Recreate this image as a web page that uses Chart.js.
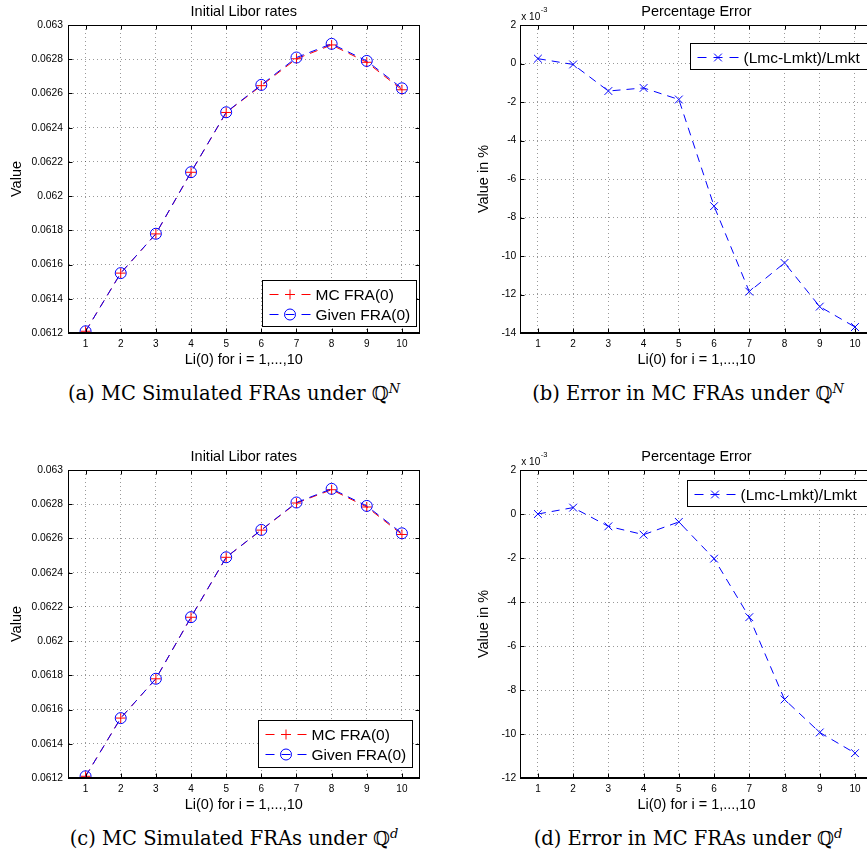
<!DOCTYPE html>
<html>
<head>
<meta charset="utf-8">
<title>MC simulated FRAs</title>
<script src="https://cdn.jsdelivr.net/npm/chart.js@4.4.1/dist/chart.umd.min.js"></script>
<style>
  html, body { margin:0; padding:0; background:#fff; overflow:hidden; }
  #page { position:relative; width:867px; height:857px; overflow:hidden; background:#fff; }
  .plot { position:absolute; width:440px; height:372px; }
  .cap { position:absolute; width:500px; text-align:center; white-space:nowrap;
         font:19.5px 'DejaVu Serif', 'Liberation Serif', serif; line-height:22px; color:#000; }
  .cap sup { font-size:13px; font-style:italic; line-height:0; }
</style>
</head>
<body>
<div id="page">
  <div class="plot" style="left:0;top:0"><canvas id="plot-a"></canvas></div>
  <div class="plot" style="left:440px;top:0"><canvas id="plot-b"></canvas></div>
  <div class="plot" style="left:0;top:445px"><canvas id="plot-c"></canvas></div>
  <div class="plot" style="left:440px;top:445px"><canvas id="plot-d"></canvas></div>

  <div class="cap" style="left:-16px;top:383px">(a) MC Simulated FRAs under ℚ<sup>N</sup></div>
  <div class="cap" style="left:438px;top:383px">(b) Error in MC FRAs under ℚ<sup>N</sup></div>
  <div class="cap" style="left:-16px;top:828px">(c) MC Simulated FRAs under ℚ<sup>d</sup></div>
  <div class="cap" style="left:438px;top:828px">(d) Error in MC FRAs under ℚ<sup>d</sup></div>
</div>

<script>
// ── DATA ─────────────────────────────────────────
const idx = ['1', '2', '3', '4', '5', '6', '7', '8', '9', '10'];

// Li(0), market values
const givenFRA = [0.06121, 0.06155, 0.06178, 0.06214, 0.06249, 0.06265, 0.06281, 0.06289, 0.06279, 0.06263];
// MC estimates under the two measures
const mcFRA_N = [0.0612102, 0.0615500, 0.0617791, 0.0621392, 0.0624888, 0.0626454, 0.0628026, 0.0628835, 0.0627821, 0.0626214];
const mcFRA_d = [0.0612100, 0.0615502, 0.0617797, 0.0621394, 0.0624898, 0.0626487, 0.0628071, 0.0628847, 0.0627838, 0.0626232];

// percentage error, in units of 1e-3 %
const errN = [0.25, -0.05, -1.43, -1.27, -1.87, -7.41, -11.85, -10.36, -12.63, -13.69];
const errD = [0.00, 0.29, -0.56, -0.94, -0.36, -2.03, -4.69, -8.43, -9.93, -10.87];
const errExponent = -3;

// y tick values
const fraTicks  = [0.0612, 0.0614, 0.0616, 0.0618, 0.062, 0.0622, 0.0624, 0.0626, 0.0628, 0.063];
const errTicksN = [-14, -12, -10, -8, -6, -4, -2, 0, 2];
const errTicksD = [-12, -10, -8, -6, -4, -2, 0, 2];

// ── STYLE ────────────────────────────────────────
const FONT = "'Liberation Sans', Arial, Helvetica, sans-serif";
Chart.defaults.font.family = FONT;
Chart.defaults.color = '#000';
Chart.defaults.animation = false;

const RED = '#ff0000', BLUE = '#0000ff';
const GRID = { color: 'rgba(0,0,0,0.4)', drawTicks: false, offset: false };
const BORDER = { color: '#000', width: 1, dash: [1, 3] };

// ── PLUGIN: matlab-like box, inner ticks, legend, exponent ──
function drawLegend(chart, lg) {
  const { ctx, chartArea: a } = chart;
  const x0 = Math.round(a.left + lg.x) + 0.5, y0 = Math.round(a.top + lg.y) + 0.5;
  ctx.save();
  ctx.fillStyle = '#fff';
  ctx.fillRect(x0, y0, lg.w, lg.h);
  ctx.strokeStyle = '#000';
  ctx.lineWidth = 1;
  ctx.strokeRect(x0, y0, lg.w, lg.h);
  const sets = chart.data.datasets;
  const rowH = 20;
  const first = y0 + lg.h / 2 - (sets.length - 1) * rowH / 2;
  sets.forEach((ds, i) => {
    const cy = Math.round(first + i * rowH) + 0.5;
    const sx = x0 + 7;
    ctx.strokeStyle = ds.borderColor;
    ctx.lineWidth = 1;
    ctx.setLineDash([9, 7]);
    ctx.beginPath(); ctx.moveTo(sx, cy); ctx.lineTo(sx + 41, cy); ctx.stroke();
    ctx.setLineDash([]);
    ctx.fillStyle = 'rgba(0,0,0,0)';
    Chart.helpers.drawPoint(ctx, { pointStyle: ds.pointStyle, radius: ds.pointRadius, rotation: 0, borderWidth: 1 }, sx + 20.5, cy);
    ctx.fillStyle = '#000';
    ctx.font = '15.5px ' + FONT;
    ctx.textBaseline = 'middle';
    ctx.fillText(ds.label, x0 + 53, cy + 1);
  });
  ctx.restore();
}

function drawExponent(chart, e) {
  const { ctx, chartArea: a } = chart;
  ctx.save();
  ctx.fillStyle = '#000';
  ctx.textBaseline = 'alphabetic';
  ctx.font = '10px ' + FONT;
  const base = 'x 10';
  ctx.fillText(base, a.left + 1, a.top - 5);
  const w = ctx.measureText(base).width;
  ctx.font = '7.5px ' + FONT;
  ctx.fillText(String(e), a.left + 1.5 + w, a.top - 13);
  ctx.restore();
}

const matlabBox = {
  id: 'matlabBox',
  afterDatasetsDraw(chart) {
    const { ctx, chartArea: a, scales: { x, y } } = chart;
    const L = Math.floor(a.left) + 0.5, R = Math.round(a.right) - 0.5;
    const T = Math.floor(a.top) + 0.5, B = Math.round(a.bottom) - 0.5;
    ctx.save();
    ctx.strokeStyle = '#000';
    ctx.lineWidth = 1;
    ctx.strokeRect(L, T, R - L, B - T);
    ctx.beginPath();
    x.ticks.forEach((t, i) => {
      const px = Math.round(x.getPixelForTick(i)) + 0.5;
      ctx.moveTo(px, B); ctx.lineTo(px, B - 4);
      ctx.moveTo(px, T); ctx.lineTo(px, T + 4);
    });
    y.ticks.forEach((t, i) => {
      const py = Math.round(y.getPixelForTick(i)) + 0.5;
      ctx.moveTo(L, py); ctx.lineTo(L + 4, py);
      ctx.moveTo(R, py); ctx.lineTo(R - 4, py);
    });
    ctx.stroke();
    ctx.restore();
  },
  afterDraw(chart, args, o) {
    if (o.legend) drawLegend(chart, o.legend);
    if (o.exponent != null) drawExponent(chart, o.exponent);
  }
};

// ── CHART BUILDER ────────────────────────────────
function buildChart(id, opt) {
  return new Chart(document.getElementById(id), {
    type: 'line',
    data: { labels: idx, datasets: opt.datasets },
    options: {
      responsive: true, maintainAspectRatio: false,
      layout: { padding: { right: opt.padRight } },
      plugins: {
        legend: { display: false },
        tooltip: { enabled: false },
        title: {
          display: true, text: opt.title, fullSize: false, color: '#000',
          font: { size: 14.5, weight: 'normal', lineHeight: 1 }, padding: { top: 5, bottom: 5.5 }
        },
        matlabBox: { legend: opt.legend, exponent: opt.exponent }
      },
      scales: {
        x: {
          type: 'category', offset: true,
          grid: GRID, border: BORDER,
          afterFit: s => { s.height = 39; },
          ticks: { padding: 5, font: { size: 10 }, color: '#000', maxRotation: 0, autoSkip: false },
          title: {
            display: true, text: 'Li(0) for i = 1,...,10', color: '#000',
            font: { size: 14.5, lineHeight: 1.2 }, padding: { top: 0, bottom: 3.6 }
          }
        },
        y: {
          min: opt.yTicks[0], max: opt.yTicks[opt.yTicks.length - 1],
          afterBuildTicks: s => { s.ticks = opt.yTicks.map(v => ({ value: v })); },
          afterFit: s => { s.width = opt.yWidth; },
          grid: GRID, border: BORDER,
          ticks: { padding: opt.tickPad, font: { size: 10.3 }, color: '#000', callback: opt.fmt },
          title: {
            display: true, text: opt.yTitle, color: '#000',
            font: { size: 14.5, lineHeight: 1.2 }, padding: { top: opt.yTitlePad, bottom: 0 }
          }
        }
      }
    },
    plugins: [matlabBox]
  });
}

function fraSets(mc) {
  const common = { borderWidth: 1, borderDash: [8, 6], pointBorderWidth: 1,
                   pointBackgroundColor: 'rgba(0,0,0,0)', tension: 0, fill: false };
  return [
    { ...common, label: 'MC FRA(0)', data: mc, borderColor: RED, pointBorderColor: RED,
      pointStyle: 'cross', pointRadius: 5, order: 1 },
    { ...common, label: 'Given FRA(0)', data: givenFRA, borderColor: BLUE, pointBorderColor: BLUE,
      pointStyle: 'circle', pointRadius: 5.5, order: 0 }
  ];
}

function errSets(err) {
  return [{
    label: '(Lmc-Lmkt)/Lmkt', data: err, borderColor: BLUE, pointBorderColor: BLUE,
    borderWidth: 1, borderDash: [8, 6], pointBorderWidth: 1, pointBackgroundColor: 'rgba(0,0,0,0)',
    pointStyle: 'crossRot', pointRadius: 5.5, tension: 0, fill: false
  }];
}

const fraFmt = v => String(+v.toFixed(4));
const errFmt = v => String(v);

// ── BOOT ─────────────────────────────────────────
buildChart('plot-a', {
  datasets: fraSets(mcFRA_N), title: 'Initial Libor rates', yTitle: 'Value',
  yTicks: fraTicks, fmt: fraFmt, yWidth: 68, tickPad: 5, yTitlePad: 8.3, padRight: 20.5,
  legend: { x: 194, y: 255, w: 154, h: 46 }
});
buildChart('plot-b', {
  datasets: errSets(errN), title: 'Percentage Error', yTitle: 'Value in %',
  yTicks: errTicksN, fmt: errFmt, yWidth: 80.3, tickPad: 4, yTitlePad: 35, padRight: 7.4,
  legend: { x: 170, y: 18, w: 178, h: 26 }, exponent: errExponent
});
buildChart('plot-c', {
  datasets: fraSets(mcFRA_d), title: 'Initial Libor rates', yTitle: 'Value',
  yTicks: fraTicks, fmt: fraFmt, yWidth: 68, tickPad: 5, yTitlePad: 8.3, padRight: 20.5,
  legend: { x: 190, y: 250, w: 154, h: 47 }
});
buildChart('plot-d', {
  datasets: errSets(errD), title: 'Percentage Error', yTitle: 'Value in %',
  yTicks: errTicksD, fmt: errFmt, yWidth: 80.3, tickPad: 4, yTitlePad: 35, padRight: 7.4,
  legend: { x: 167, y: 9.5, w: 181, h: 26 }, exponent: errExponent
});
</script>
</body>
</html>
